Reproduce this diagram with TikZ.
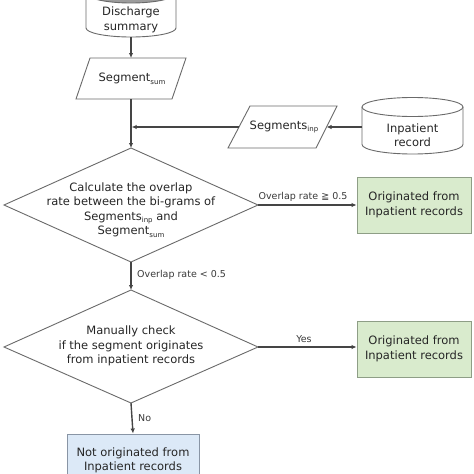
\documentclass[tikz,border=0pt]{standalone}
\usepackage{fontspec}
\setmainfont{DejaVu Sans}
\usetikzlibrary{arrows.meta,calc}
\definecolor{shapegray}{HTML}{6A6A6A}
\definecolor{arrgray}{HTML}{454545}
\definecolor{labelgray}{HTML}{3A3A3A}
\definecolor{greenfill}{HTML}{D9EBCD}
\definecolor{greenborder}{HTML}{8E9E86}
\definecolor{bluefill}{HTML}{DCE9F7}
\definecolor{blueborder}{HTML}{8995A5}
\definecolor{topgray}{HTML}{9C9C9C}
\newcommand{\lowsub}[1]{\raisebox{-0.4ex}{\fontsize{7}{8}\selectfont #1}}
\begin{document}
\begin{tikzpicture}[x=1pt,y=-1pt,
  shp/.style={draw=shapegray, line width=0.9pt},
  arr/.style={draw=arrgray, line width=1.4pt, -{Latex[length=5pt,width=4.5pt]}},
  txt/.style={align=center, font=\fontsize{11.5}{14.5}\selectfont, inner sep=0pt, text=black!85},
  lbl/.style={font=\fontsize{9.5}{11}\selectfont, inner sep=0pt, text=labelgray},
  greenbox/.style={txt, draw=greenborder, fill=greenfill, line width=0.9pt, minimum width=114pt, minimum height=56pt},
  bluebox/.style={txt, draw=blueborder, fill=bluefill, line width=0.9pt, minimum width=132pt, minimum height=53pt}]
\useasboundingbox (0,0) rectangle (474,474);
\begin{scope}
\clip (0,0) rectangle (474,474);
\fill[white] (0,0) rectangle (474,474);

% Discharge summary cylinder
\draw[shp, fill=white] (86,-7) -- (86,28) arc[start angle=180, end angle=0, x radius=45, y radius=9] -- (176,-7);
\draw[shp, fill=topgray] (131,-7) ellipse[x radius=45, y radius=10];
\node[txt] (dis) at (131,20) {Discharge\\summary};
\coordinate (disS) at (131,37);

% Segment_sum parallelogram
\draw[shp] (90,58) -- (186,58) -- (172,99) -- (76,99) -- cycle;
\node[txt] (sum) at (132,79) {Segment\lowsub{sum}};
\coordinate (sumN) at (131,58);
\coordinate (sumS) at (131,99);

% Segments_inp parallelogram
\draw[shp] (250,106) -- (337,106) -- (316,148) -- (228,148) -- cycle;
\node[txt] (inp) at (284,127) {Segments\lowsub{inp}};
\coordinate (inpW) at (239,127);
\coordinate (inpE) at (326.5,127);

% Inpatient record cylinder
\draw[shp, fill=white] (362,107) -- (362,144.5) arc[start angle=180, end angle=0, x radius=50.5, y radius=9.5] -- (463,107);
\draw[shp, fill=white] (412.5,107) ellipse[x radius=50.5, y radius=9.5];
\node[txt] (rec) at (412.5,135) {Inpatient\\record};
\coordinate (recW) at (362,127);

% Decision 1
\coordinate (d1N) at (131,148);
\coordinate (d1E) at (258,205);
\coordinate (d1S) at (131,262);
\coordinate (d1W) at (4,205);
\draw[shp] (d1N) -- (d1E) -- (d1S) -- (d1W) -- cycle;
\node[txt] (d1) at (131,210) {Calculate the overlap\\rate between the bi-grams of\\Segments\lowsub{inp} and\\Segment\lowsub{sum}};

\node[greenbox] (g1) at (414,205) {Originated from\\Inpatient records};

% Decision 2
\coordinate (d2N) at (131,290);
\coordinate (d2E) at (258,347);
\coordinate (d2S) at (131,403);
\coordinate (d2W) at (4,347);
\draw[shp] (d2N) -- (d2E) -- (d2S) -- (d2W) -- cycle;
\node[txt] (d2) at (131,346) {Manually check\\if the segment originates\\from inpatient records};

\node[greenbox] (g2) at (414,349) {Originated from\\Inpatient records};
\node[bluebox] (b1) at (133,460.5) {Not originated from\\Inpatient records};

% Connectors
\coordinate (junc) at (131,127);
\draw[arr] (disS) -- (sumN);
\draw[arr] (sumS) -- (d1N);
\draw[arr, shorten >=0.7pt] (inpW) -- (junc);
\draw[arr] (recW) -- (inpE);
\draw[arr] (d1E) -- (g1.west);
\draw[arr] (d1S) -- (d2N);
\draw[arr] (d2E) -- (g2.west |- d2E);
\draw[arr] (d2S) -- (b1.north);

% Labels
\node[lbl] (l1) at (303,197) {Overlap rate ≧ 0.5};
\node[lbl, anchor=west] (l2) at (137,275) {Overlap rate < 0.5};
\node[lbl] (l3) at (304,339) {Yes};
\node[lbl, anchor=west] (l4) at (138,418) {No};
\end{scope}
\end{tikzpicture}
\end{document}
